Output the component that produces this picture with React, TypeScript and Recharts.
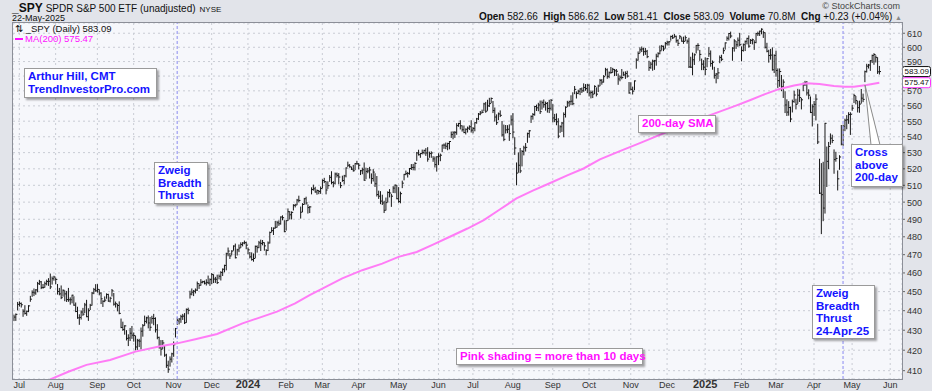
import React from "react";
import {
  Bar,
  CartesianGrid,
  ComposedChart,
  Line,
  ReferenceLine,
  XAxis,
  YAxis,
} from "recharts";

type HLC = [number, number, number]; // high, low, close

// daily SPY bars (high, low, close)
const jun23: HLC[] = [[437.7,434.9,436.7],[438.3,435.0,438.1],[444.3,440.4,443.3]];
const jul23: HLC[] = [
  [444.6,442.4,443.8],[444.0,441.9,443.1],[440.5,437.1,439.7],[442.6,438.3,438.6],[439.8,437.6,439.7],
  [442.6,439.5,442.5],[447.5,444.9,446.0],[450.4,447.5,449.6],[451.4,447.9,449.3],[451.1,448.6,450.9],
  [454.9,449.9,454.2],[456.0,453.8,455.2],[455.4,451.6,452.2],[453.8,451.8,452.2],[455.1,452.4,454.2],
  [456.1,453.6,455.4],[456.9,453.3,455.5],[459.4,451.6,452.5],[457.8,454.0,456.9],[458.2,456.1,457.8]];
const aug23: HLC[] = [
  [457.2,454.2,456.5],[453.8,448.7,450.1],[451.7,448.3,448.8],[453.0,446.3,446.8],[450.9,447.6,450.7],
  [450.3,445.2,448.8],[450.1,444.8,445.8],[451.7,444.9,445.7],[446.7,443.4,445.7],[448.1,444.1,448.1],
  [447.3,442.8,442.9],[444.0,439.5,439.6],[441.8,436.1,436.3],[437.9,433.0,436.5],[439.9,435.7,439.3],
  [441.2,437.6,438.2],[443.8,439.0,443.0],[445.4,436.9,436.9],[441.0,435.0,440.0],[443.3,440.6,442.8],
  [449.6,442.9,449.2],[451.7,448.9,451.0],[453.7,450.2,450.4]];
const sep23: HLC[] = [
  [453.7,449.7,451.2],[451.0,448.3,449.2],[449.4,443.7,446.2],[445.2,442.2,444.9],[447.2,444.7,445.5],
  [448.8,446.5,448.5],[448.6,444.9,445.0],[447.0,444.6,446.5],[451.1,447.7,450.4],[449.0,442.9,443.4],
  [444.5,441.9,443.6],[443.3,439.9,442.7],[444.6,438.4,438.6],[435.7,431.3,431.4],[434.1,429.9,430.4],
  [432.3,428.0,432.2],[429.8,425.1,425.9],[427.7,422.3,426.1],[430.9,424.8,428.5],[431.9,425.9,427.5]];
const oct23: HLC[] = [
  [428.6,424.5,427.3],[427.0,420.2,421.6],[425.4,420.4,424.7],[425.4,421.8,424.5],[431.1,420.6,429.5],
  [432.9,427.0,432.3],[437.2,432.5,434.5],[436.6,433.7,436.3],[437.3,431.2,433.7],[436.5,429.9,431.5],
  [437.1,433.6,436.0],[438.1,432.8,436.0],[436.3,429.1,430.2],[432.8,425.7,426.4],[426.5,421.1,421.2],
  [424.8,417.6,420.5],[424.8,420.8,423.6],[421.9,417.0,417.6],[418.0,411.6,412.6],[414.6,409.2,410.7],
  [416.7,412.2,415.6],[418.5,414.2,418.2]];
const nov23: HLC[] = [
  [424.1,417.0,422.7],[430.9,426.6,430.8],[436.3,433.0,434.7],[435.9,433.2,435.7],[437.6,434.0,436.9],
  [438.1,435.5,437.2],[438.5,433.4,433.8],[440.9,434.0,440.6],[441.3,438.4,440.2],[450.2,446.6,448.7],
  [451.4,448.3,449.7],[450.6,447.9,450.2],[451.4,449.3,450.8],[455.1,450.6,454.3],[454.1,451.7,453.3],
  [456.4,453.4,455.0],[455.5,454.7,455.3],[455.6,454.1,454.5],[456.3,453.5,454.9],[458.3,454.2,454.6],
  [456.8,453.3,456.4]];
const dec23: HLC[] = [
  [459.7,454.3,459.1],[459.0,454.8,456.7],[457.6,454.9,456.6],[458.8,454.3,454.8],[458.9,456.8,458.2],
  [460.7,456.2,460.2],[462.2,458.6,462.0],[464.2,460.6,464.1],[470.8,461.7,470.5],[473.7,469.4,472.0],
  [470.7,467.9,469.3],[472.2,469.9,472.0],[474.9,472.5,474.8],[475.9,468.2,468.3],[473.0,469.8,472.7],
  [475.4,471.7,473.7],[476.6,474.0,475.7],[476.7,474.9,476.5],[477.6,476.1,476.7],[477.0,473.3,475.3]];
const jan24: HLC[] = [
  [473.7,470.5,472.7],[471.2,468.2,468.8],[471.0,467.0,467.3],[470.4,466.4,467.9],[474.8,468.3,474.6],
  [474.9,471.4,473.9],[477.4,473.9,476.6],[478.1,472.3,476.3],[477.9,475.5,476.7],[476.6,472.5,474.9],
  [472.8,469.9,472.3],[477.1,472.3,476.5],[482.7,476.5,482.4],[485.2,482.8,483.5],[485.0,481.3,484.9],
  [488.8,484.9,485.4],[488.8,485.5,488.0],[489.1,486.5,487.4],[491.4,487.2,491.3],[492.0,489.7,490.9],
  [489.2,482.9,482.9]];
const feb24: HLC[] = [
  [489.2,483.8,489.2],[496.0,489.3,494.4],[494.4,490.2,492.6],[494.3,490.2,494.0],[498.5,495.4,498.1],
  [498.7,497.2,498.3],[501.6,498.5,501.2],[503.5,500.2,501.0],[497.1,490.7,494.1],[499.1,494.4,498.6],
  [502.2,498.8,502.0],[502.9,498.8,499.5],[498.4,493.6,496.8],[497.4,493.9,497.2],[508.5,504.9,507.5],
  [510.1,507.1,507.9],[508.8,505.9,506.0],[507.2,504.7,506.9],[506.9,505.0,506.3],[509.0,505.2,508.1]];
const mar24: HLC[] = [
  [513.3,508.5,512.9],[514.2,511.6,512.3],[512.1,504.9,507.2],[512.1,508.1,509.8],[515.9,512.4,514.8],
  [518.2,510.9,511.7],[512.2,509.1,511.3],[517.4,510.8,516.8],[517.4,515.0,516.0],[517.1,510.9,515.0],
  [511.7,508.6,509.8],[515.5,512.4,512.9],[516.0,510.8,515.7],[520.6,515.1,520.5],[524.1,521.4,522.2],
  [522.6,521.0,521.2],[521.0,519.6,519.8],[522.1,518.6,518.8],[523.2,519.5,523.2],[524.6,522.8,523.1]];
const apr24: HLC[] = [
  [523.2,520.0,522.2],[519.0,516.5,518.8],[520.4,517.0,519.4],[523.6,513.0,513.1],[520.4,514.0,518.4],
  [520.2,517.6,518.7],[520.9,514.4,519.3],[516.9,511.2,514.1],[519.5,512.6,518.0],[517.0,509.3,510.9],
  [515.3,503.6,504.5],[506.5,502.2,503.5],[506.2,499.1,500.6],[504.1,498.6,499.5],[500.5,493.9,495.2],
  [502.4,495.4,499.7],[506.1,500.2,505.7],[507.4,503.1,505.4],[504.6,497.5,503.5],[509.2,505.7,508.3],
  [510.2,505.6,510.1],[509.9,502.0,502.0]];
const may24: HLC[] = [
  [508.6,499.9,500.4],[505.9,499.6,505.0],[512.5,508.6,511.3],[516.6,513.3,516.6],[518.6,516.4,517.1],
  [517.8,515.0,517.2],[520.2,516.7,520.2],[522.6,519.6,520.8],[522.7,519.4,520.9],[523.8,519.3,523.3],
  [530.1,525.2,529.8],[531.5,528.5,528.7],[529.5,527.1,529.5],[531.6,529.2,530.1],[531.5,529.3,531.4],
  [532.5,528.3,529.8],[533.1,524.7,526.0],[530.3,527.1,529.4],[530.5,527.1,529.8],[527.5,524.6,526.1],
  [527.3,521.1,522.6],[527.5,518.6,527.4]];
const jun24: HLC[] = [
  [529.3,522.6,527.8],[529.1,525.0,528.4],[534.7,530.6,534.7],[535.4,532.7,534.7],[536.0,532.5,534.0],
  [535.9,531.8,535.7],[537.0,532.4,537.0],[543.0,539.6,541.4],[543.2,538.7,542.5],[543.3,539.6,542.8],
  [548.4,541.6,547.1],[548.6,546.7,548.5],[550.3,545.0,547.0],[547.0,543.6,544.5],[546.9,542.6,542.7],
  [545.0,541.8,544.8],[546.2,543.0,545.5],[547.0,544.6,546.4],[550.3,543.0,544.2]];
const jul24: HLC[] = [
  [545.9,542.5,545.3],[549.0,543.8,549.0],[551.8,548.7,551.5],[555.0,551.1,554.6],[556.3,554.2,555.3],
  [557.2,555.5,555.8],[561.7,556.8,561.3],[562.3,555.8,556.5],[563.7,557.1,560.0],[565.0,559.6,561.5],
  [565.2,562.1,564.9],[562.9,555.6,556.9],[558.6,550.1,552.7],[554.1,547.9,549.0],[555.3,551.0,554.7],
  [556.7,553.0,553.8],[549.8,540.4,541.2],[547.5,537.5,538.4],[547.2,542.4,544.4],[547.1,542.6,544.8],
  [547.6,537.7,542.0],[553.5,547.6,550.8]];
const aug24: HLC[] = [
  [554.9,539.4,543.0],[539.4,528.9,532.9],[523.6,510.3,517.4],[529.8,517.9,522.2],[532.6,517.7,518.7],
  [531.3,521.8,530.7],[534.0,528.6,533.0],[535.7,531.0,533.3],[542.3,536.5,542.0],[544.0,539.7,543.8],
  [553.4,549.2,553.1],[555.0,551.3,554.3],[559.6,553.9,559.6],[560.5,557.0,558.7],[561.7,556.8,560.6],
  [563.2,555.0,556.2],[563.2,557.9,562.1],[563.9,559.1,560.8],[562.5,557.2,561.6],[562.2,555.9,558.3],
  [563.7,555.6,558.4],[564.2,557.3,563.7]];
const sep24: HLC[] = [
  [560.8,549.5,552.1],[554.4,549.7,551.0],[554.7,547.7,549.6],[551.6,539.4,540.4],[547.0,542.8,546.4],
  [549.2,543.4,548.8],[555.4,540.0,554.4],[559.4,552.7,559.1],[563.0,559.5,562.0],[563.1,559.9,562.8],
  [566.7,560.8,563.1],[568.7,560.8,561.4],[572.9,568.1,571.0],[569.3,565.2,568.3],[570.4,568.1,569.7],
  [571.4,567.5,571.3],[571.9,568.9,570.0],[574.7,569.8,572.3],[574.2,570.4,571.5],[574.4,568.8,573.8]];
const oct24: HLC[] = [
  [574.1,566.6,568.6],[569.9,565.3,568.9],[569.8,565.5,567.8],[573.4,568.2,573.0],[572.0,566.6,567.8],
  [573.8,569.5,573.2],[577.7,573.5,577.1],[577.6,574.5,575.9],[580.3,575.9,579.6],[585.3,580.6,584.3],
  [584.9,578.5,579.8],[582.8,578.9,582.3],[585.9,582.0,582.4],[585.3,582.6,584.6],[584.5,580.4,583.6],
  [584.5,580.4,583.3],[581.4,574.4,578.0],[580.1,576.8,579.2],[584.5,578.1,579.0],[582.7,580.5,580.8],
  [582.9,578.4,581.8],[583.3,579.3,580.0],[575.6,568.4,568.6]];
const nov24: HLC[] = [
  [575.5,570.6,571.0],[572.5,567.9,569.8],[576.7,570.8,576.7],[591.9,585.4,591.0],[596.7,591.0,595.6],
  [599.6,596.2,598.2],[600.2,597.0,598.8],[599.3,594.4,596.9],[599.2,595.0,597.2],[597.8,592.7,593.4],
  [590.2,583.9,585.8],[589.5,585.3,588.2],[591.0,584.0,590.3],[590.8,584.6,590.5],[595.1,587.5,593.7],
  [596.2,593.2,595.5],[600.9,595.4,597.5],[601.3,598.1,600.7],[600.8,597.6,598.8],[603.4,599.4,602.6]];
const dec24: HLC[] = [
  [604.3,601.6,603.6],[604.1,601.6,603.9],[607.9,605.0,607.7],[608.5,606.3,606.7],[609.1,607.2,607.8],
  [607.9,603.6,604.7],[605.3,601.3,602.8],[608.4,606.1,607.5],[606.8,604.3,604.3],[607.2,602.8,604.2],
  [608.0,604.6,606.8],[605.2,602.9,604.3],[606.4,585.9,586.3],[593.0,585.9,586.1],[595.9,580.9,591.2],
  [595.3,588.0,594.7],[601.3,596.0,601.3],[602.5,598.1,601.3],[597.8,590.8,595.0],[591.7,584.4,588.2],
  [590.6,584.4,586.1]];
const jan25: HLC[] = [
  [592.6,580.9,584.6],[592.2,586.4,592.0],[599.7,593.6,595.4],[597.4,586.8,588.6],[590.4,584.7,589.5],
  [586.0,578.6,580.5],[581.8,575.4,581.4],[585.2,578.3,582.2],[593.9,589.2,592.8],[594.4,590.6,591.6],
  [599.4,595.7,597.6],[603.1,598.7,603.1],[607.4,604.9,606.4],[609.8,605.2,609.8],[610.8,606.8,608.0],
  [599.7,590.9,599.4],[605.4,597.3,604.5],[604.1,599.2,601.8],[606.6,600.7,605.0],[609.9,601.1,601.8]];
const feb25: HLC[] = [
  [600.3,590.5,597.8],[602.3,597.3,601.8],[604.4,597.7,604.2],[606.4,602.4,606.3],[608.1,600.1,600.8],
  [605.5,602.7,604.9],[605.8,602.4,605.3],[604.6,598.5,603.4],[609.9,603.2,609.7],[610.8,608.4,609.7],
  [611.5,608.4,611.5],[613.2,609.6,612.9],[611.5,607.0,610.4],[610.3,599.5,600.0],[602.8,596.8,597.2],
  [597.9,589.6,594.2],[598.5,591.7,594.5],[599.6,584.1,584.3],[594.7,582.4,594.2]];
const mar25: HLC[] = [
  [597.3,579.9,583.8],[584.9,572.3,576.9],[584.9,573.1,583.1],[580.4,570.1,572.7],[577.4,565.6,575.9],
  [569.4,555.6,560.6],[564.0,553.7,555.9],[562.8,553.9,558.9],[559.2,549.7,551.4],[563.8,556.0,562.8],
  [569.7,562.4,567.2],[564.4,558.0,561.0],[571.0,561.6,567.1],[570.6,562.9,565.5],[564.9,558.0,564.0],
  [575.2,570.1,574.1],[576.4,573.6,575.5],[576.3,567.2,568.6],[570.7,564.7,567.1],[565.9,555.6,555.7],
  [560.7,546.9,559.4]];
const apr25: HLC[] = [
  [562.9,553.7,561.0],[567.4,550.8,564.5],[548.0,535.7,536.7],[525.9,505.1,505.3],[523.2,481.8,504.4],
  [524.0,489.2,496.5],[548.6,493.6,548.6],[533.5,509.3,524.6],[536.4,520.1,533.9],[541.8,535.3,539.1],
  [541.0,536.3,537.6],[531.7,517.3,525.7],[530.2,524.7,526.4],[518.7,507.2,513.9],[528.1,519.7,527.3],
  [547.2,534.9,535.4],[547.4,534.6,546.7],[551.3,543.9,550.6],[553.6,545.1,550.9],[555.5,548.6,554.3],
  [555.5,541.5,554.5]];
const may25: HLC[] = [
  [560.3,557.1,558.5],[567.7,562.2,566.8],[566.2,561.3,563.5],[562.9,556.0,558.8],[563.1,555.8,561.2],
  [570.9,561.8,565.1],[567.8,562.8,564.3],[583.4,576.2,583.0],[588.1,582.8,586.8],[588.0,585.5,587.6],
  [590.7,583.9,590.5],[594.5,589.3,594.2],[595.5,588.1,594.9],[594.0,589.7,592.9],[592.6,581.8,582.9],
  [586.6,581.4,583.09]];

// 200-day SMA (bar index -> value)
const smaIdx = [20,30,40,53,67,80,90,100,112,126,135,145,155,163,170,181,192,203,212,222,231,240,250,259,268,277,286,295,305,314,323,334,345,356,367,378,389,398,406,414,422,430,437,444,452,458,463,470,477];
const smaVal = [405.8,409.5,412.8,415.2,419.3,421.8,423.4,425.5,428.1,433.5,436.3,439.5,443.8,448.2,451.6,457.1,461.5,465.1,468.8,471.5,475.6,479.9,484.7,489.5,495.8,502.2,506.8,511.1,516.0,520.2,525.8,530.9,536.0,541.2,546.4,551.4,556.2,560.2,563.9,567.8,571.3,573.6,575.1,574.6,573.3,572.8,572.8,574.0,575.47];

// first trading day of each month (bar index) and its label
const monthTicks = [3,23,46,66,88,109,129,150,170,190,212,234,253,275,297,317,340,360,381,401,420,441,462,483];
const monthLabels = ["Jul","Aug","Sep","Oct","Nov","Dec","2024","Feb","Mar","Apr","May","Jun","Jul","Aug","Sep","Oct","Nov","Dec","2025","Feb","Mar","Apr","May","Jun"];

const priceTicks = [410,420,430,440,450,460,470,480,490,500,510,520,530,540,550,560,570,580,590,600,610];
const hiddenPriceLabels = [580]; // covered by the last-close tag
const zweigDays = [90, 457];
const TOTAL_SLOTS = 490;
const LAST_CLOSE = 583.09;
const LAST_MA = 575.47;

const allBars: HLC[] = [jun23, jul23, aug23, sep23, oct23, nov23, dec23, jan24, feb24, mar24, apr24, may24, jun24, jul24, aug24, sep24, oct24, nov24, dec24, jan25, feb25, mar25, apr25, may25].flat();

const rows: any[] = [];
for (let i = 0; i < TOTAL_SLOTS; i++) {
  const b = allBars[i];
  rows.push({ i, hl: b ? [b[1], b[0]] : null, h: b?.[0], l: b?.[1], c: b?.[2], ma: null });
}
smaIdx.forEach((idx, k) => {
  rows[idx].ma = smaVal[k];
});

const FONT = "'Liberation Sans', Arial, sans-serif";
const BLUE = "#1414ff";
const MAGENTA = "#ff10ff";

function HlcShape(props: any) {
  const { x, y, width, height, payload } = props;
  if (!payload || payload.h == null) return null;
  const top = Math.min(y, y + height);
  const bot = Math.max(y, y + height);
  const cx = x + width / 2;
  const span = Math.log(payload.h) - Math.log(payload.l);
  const yc = span > 0 ? top + ((bot - top) * (Math.log(payload.h) - Math.log(payload.c))) / span : top;
  return (
    <g stroke="#181818" strokeWidth={1}>
      <line x1={cx} x2={cx} y1={top - 0.5} y2={bot + 0.5} />
      <line x1={cx} x2={cx + 1.6} y1={yc} y2={yc} />
    </g>
  );
}

function MonthTick(props: any) {
  const { x, payload } = props;
  const idx = monthTicks.indexOf(payload.value);
  const lab = monthLabels[idx] ?? "";
  const bold = lab.startsWith("20");
  return (
    <text x={x} y={388} textAnchor="middle" fontSize={bold ? 11 : 9} fontWeight={bold ? 700 : 400} fill="#333" fontFamily={FONT}>
      {lab}
    </text>
  );
}

function PriceAxisTick(props: any) {
  const { x, y, payload } = props;
  if (hiddenPriceLabels.includes(payload.value)) return null;
  return (
    <g>
      <line x1={x - 4} x2={x - 1} y1={y} y2={y} stroke="#666" />
      <text x={x + 1} y={y + 3.5} fontSize={9} fill="#333" fontFamily={FONT}>
        {payload.value}
      </text>
    </g>
  );
}

function PriceTag(props: any) {
  const { viewBox, text, color } = props;
  if (!viewBox) return null;
  const x = viewBox.x + viewBox.width + 0.5;
  const y = viewBox.y;
  return (
    <g>
      <rect x={x} y={y - 5} width={28} height={10} rx={2} fill="#fff" stroke={color} strokeWidth={1} />
      <text x={x + 2} y={y + 2.5} fontSize={8} fill="#111" fontFamily={FONT}>
        {text}
      </text>
    </g>
  );
}

const noteBox: React.CSSProperties = {
  position: "absolute",
  background: "#fff",
  border: "1px solid #9a9a9a",
  boxShadow: "2px 2px 2px rgba(0,0,0,0.35)",
  fontFamily: FONT,
  fontWeight: 700,
  fontSize: 11.5,
  lineHeight: "12.5px",
  color: BLUE,
  padding: "1px 3px",
  boxSizing: "border-box",
  whiteSpace: "nowrap",
};

export default function App() {
  return (
    <div style={{ position: "absolute", left: 0, top: 0, width: 932, height: 391, background: "#e2e4ea", overflow: "hidden" }}>
      {/* header */}
      <div style={{ position: "absolute", left: 12, top: 0, height: 13, lineHeight: "13px", fontFamily: FONT, color: "#111", whiteSpace: "nowrap" }}>
        <span style={{ fontSize: 12, fontWeight: 700 }}>_SPY</span>
        <span style={{ fontSize: 10, marginLeft: 3 }}>SPDR S&amp;P 500 ETF (unadjusted)</span>
        <span style={{ fontSize: 8, marginLeft: 4 }}>NYSE</span>
      </div>
      <div style={{ position: "absolute", left: 12, top: 15, lineHeight: "7px", fontFamily: FONT, fontSize: 9, color: "#111" }}>22-May-2025</div>
      <div style={{ position: "absolute", right: 32, top: 1, lineHeight: "10px", fontFamily: FONT, fontSize: 9, color: "#444" }}>© StockCharts.com</div>
      <div style={{ position: "absolute", right: 30, top: 12, lineHeight: "10px", fontFamily: FONT, fontSize: 10, color: "#111", whiteSpace: "nowrap" }}>
        <b>Open</b> 582.66&nbsp;&nbsp;<b>High</b> 586.62&nbsp;&nbsp;<b>Low</b> 581.41&nbsp;&nbsp;<b>Close</b> 583.09&nbsp;&nbsp;
        <b>Volume</b> 70.8M&nbsp;&nbsp;<b>Chg</b> +0.23 (+0.04%) <span style={{ fontSize: 7, color: "#888" }}>▲</span>
      </div>

      <ComposedChart
        width={932}
        height={391}
        data={rows}
        margin={{ top: 23, right: 0, bottom: 0, left: 13 }}
        barCategoryGap={0}
        style={{ position: "absolute", left: 0, top: 0 }}
      >
        <CartesianGrid fill="#f6f7fb" stroke="#c9ccd4" strokeDasharray="2 3" />
        <XAxis
          dataKey="i"
          type="category"
          ticks={monthTicks}
          interval={0}
          height={12}
          tick={<MonthTick />}
          tickLine={false}
          axisLine={false}
          tickSize={0}
        />
        <YAxis
          orientation="right"
          type="number"
          scale="log"
          domain={[406, 617.4]}
          allowDataOverflow
          ticks={priceTicks}
          interval={0}
          width={30}
          tickSize={3}
          tickMargin={1}
          axisLine={false}
          tickLine={false}
          tick={<PriceAxisTick />}
        />
        {zweigDays.map((d) => (
          <ReferenceLine key={d} x={d} stroke="#9d9df2" strokeDasharray="3 2" strokeWidth={1.2} />
        ))}
        <Bar dataKey="hl" shape={<HlcShape />} isAnimationActive={false} />
        <Line
          dataKey="ma"
          connectNulls
          dot={false}
          stroke="#ff7cf6"
          strokeWidth={2}
          isAnimationActive={false}
        />
        <ReferenceLine y={LAST_CLOSE} stroke="none" label={<PriceTag text={LAST_CLOSE.toFixed(2)} color="#111" />} />
        <ReferenceLine y={LAST_MA} stroke="none" label={<PriceTag text={LAST_MA.toFixed(2)} color="#ff30ff" />} />
      </ComposedChart>

      {/* plot border */}
      <div style={{ position: "absolute", left: 12, top: 22, width: 891, height: 358, border: "1px solid #8c8f98", boxSizing: "border-box", pointerEvents: "none" }} />

      {/* legend */}
      <div style={{ position: "absolute", left: 15, top: 24, lineHeight: "9px", fontFamily: FONT, fontSize: 9.5, color: "#111", whiteSpace: "nowrap" }}>⇅ _SPY (Daily) 583.09</div>
      <div style={{ position: "absolute", left: 15, top: 34, lineHeight: "9px", fontFamily: FONT, fontSize: 9.5, color: MAGENTA, whiteSpace: "nowrap" }}>
        <span style={{ display: "inline-block", width: 8, height: 2, background: MAGENTA, verticalAlign: "middle", marginRight: 2 }} />
        MA(200) 575.47
      </div>

      {/* callout pointer */}
      <svg width={932} height={391} style={{ position: "absolute", left: 0, top: 0, pointerEvents: "none" }}>
        <polygon points="865,85 871,145 880,145" fill="#fff" stroke="#8a8a8a" strokeWidth={1} />
      </svg>

      {/* annotations */}
      <div style={{ ...noteBox, left: 24, top: 68, width: 133, height: 30 }}>
        Arthur Hill, CMT
        <br />
        TrendInvestorPro.com
      </div>
      <div style={{ ...noteBox, left: 154, top: 162, width: 54, height: 42 }}>
        Zweig
        <br />
        Breadth
        <br />
        Thrust
      </div>
      <div style={{ ...noteBox, left: 638, top: 115, width: 78, height: 18, color: MAGENTA }}>200-day SMA</div>
      <div style={{ ...noteBox, left: 851, top: 144, width: 52, height: 43 }}>
        Cross
        <br />
        above
        <br />
        200-day
      </div>
      <div style={{ ...noteBox, left: 812, top: 285, width: 63, height: 54 }}>
        Zweig
        <br />
        Breadth
        <br />
        Thrust
        <br />
        24-Apr-25
      </div>
      <div style={{ ...noteBox, left: 456, top: 348, width: 187, height: 17, color: MAGENTA }}>Pink shading = more than 10 days</div>
    </div>
  );
}
